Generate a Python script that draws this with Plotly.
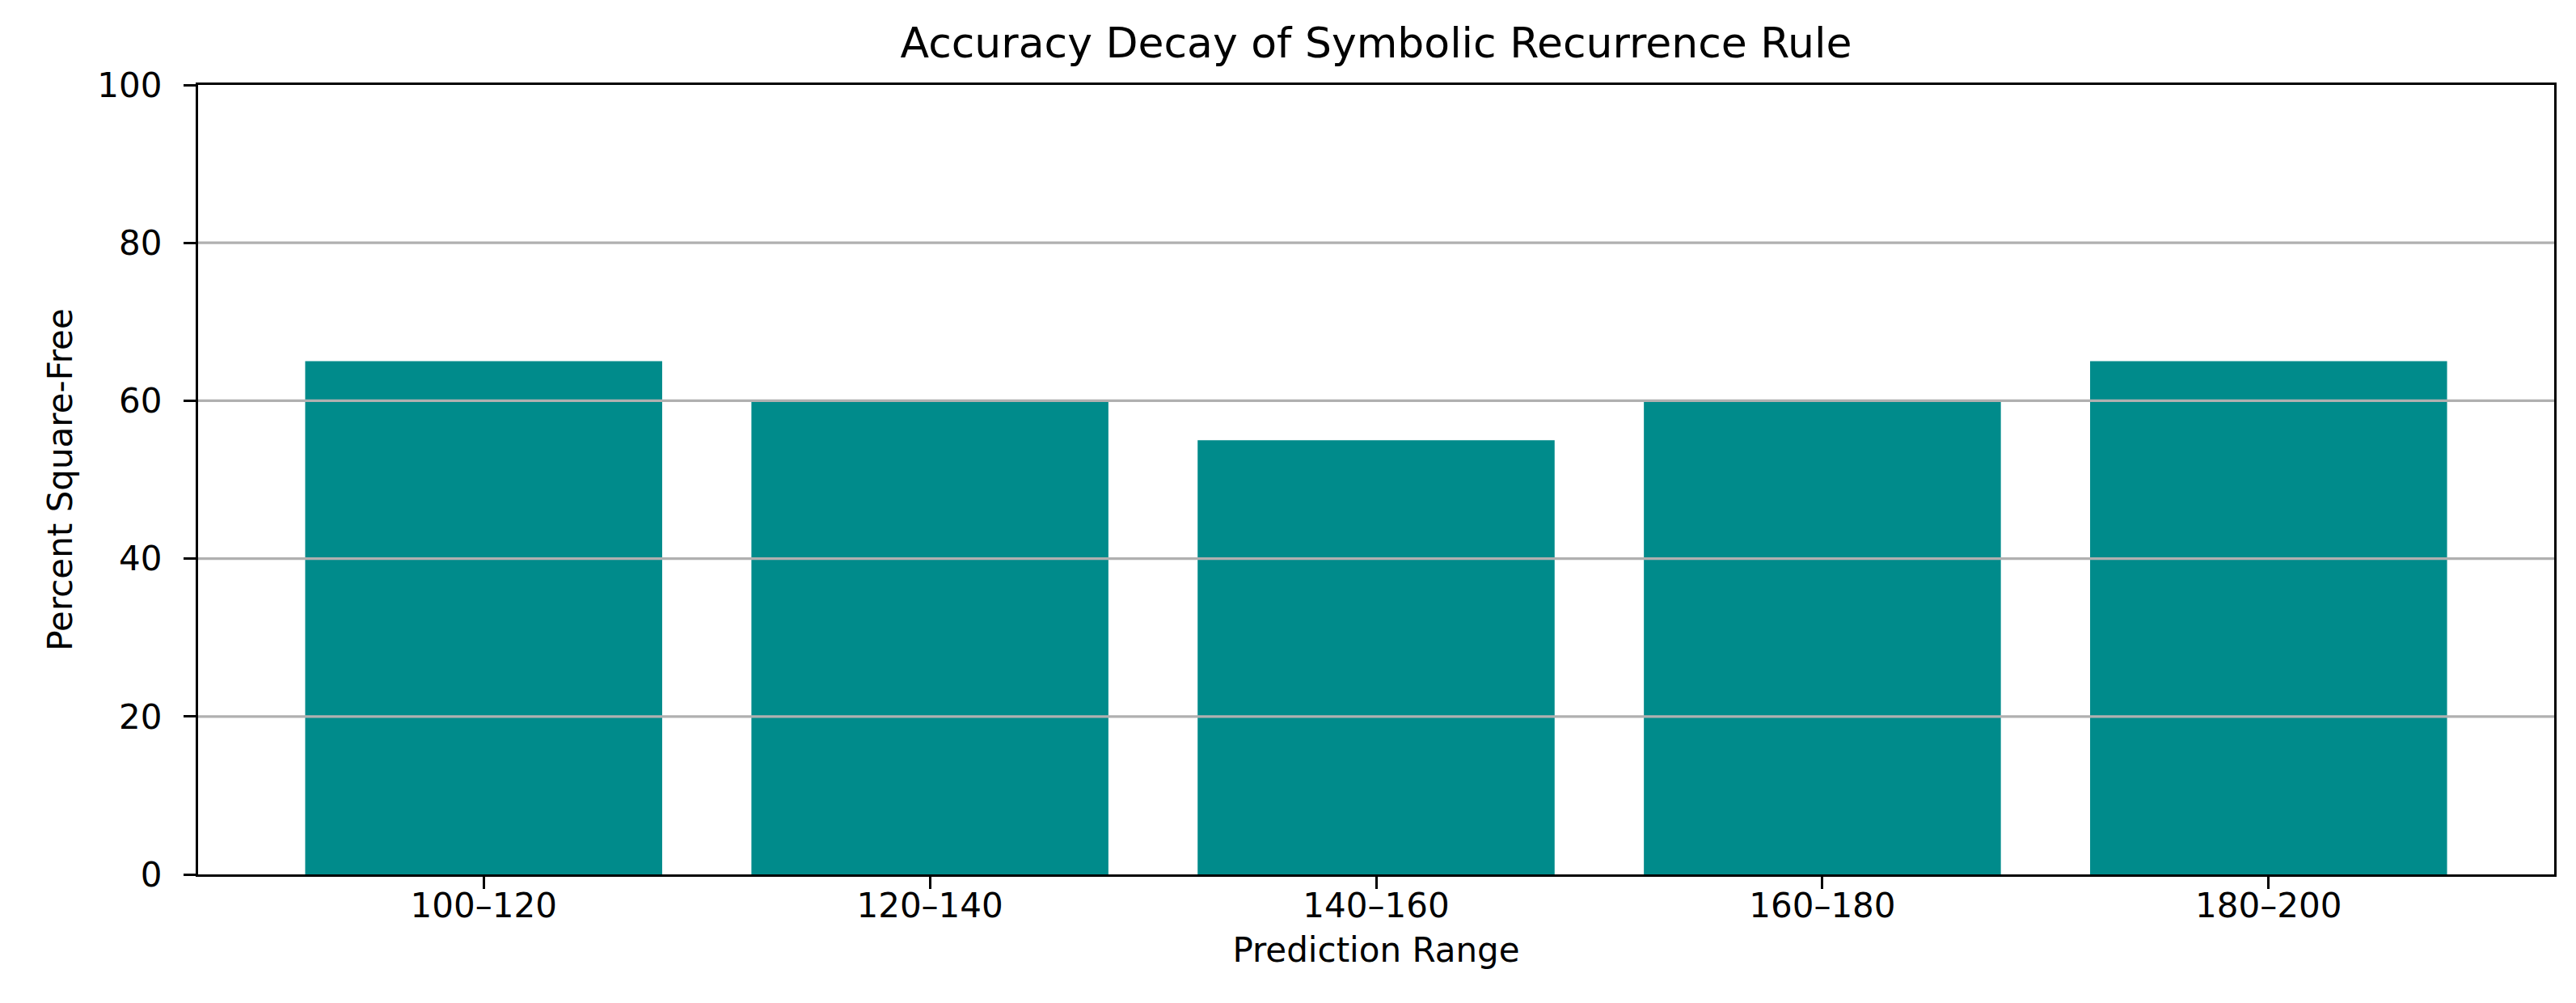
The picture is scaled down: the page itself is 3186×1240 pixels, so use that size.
import plotly.graph_objects as go

categories = ["100–120", "120–140", "140–160", "160–180", "180–200"]
percent_square_free = [65, 60, 55, 60, 65]
y_ticks = [0, 20, 40, 60, 80, 100]

W, H = 3186, 1240
FONT = "DejaVu Sans"
LW = 3.3

fig = go.Figure()
fig.add_trace(go.Bar(
    x=list(range(len(categories))),
    y=percent_square_free,
    width=0.8,
    marker=dict(color="#008B8B", line=dict(width=0)),
    showlegend=False,
))

# gridlines drawn above bars (matplotlib default)
for t in y_ticks[1:-1]:
    fig.add_shape(type="line", xref="paper", x0=0, x1=1, yref="y", y0=t, y1=t,
                  line=dict(color="#b0b0b0", width=LW), layer="above")

n = len(categories)
fig.update_layout(
    width=W, height=H, autosize=False,
    paper_bgcolor="white", plot_bgcolor="white",
    margin=dict(l=237, r=35, t=97, b=167, pad=0),
    font=dict(family=FONT, size=42, color="black"),
    title=dict(text="Accuracy Decay of Symbolic Recurrence Rule",
               font=dict(family=FONT, size=52, color="black"),
               x=0.5, xanchor="center", xref="paper",
               y=1 - 45 / H, yref="container", yanchor="middle"),
    bargap=0.2,
)
fig.update_xaxes(
    range=[-0.64, n - 1 + 0.64],
    tickmode="array", tickvals=list(range(n)), ticktext=categories,
    ticks="outside", ticklen=15, tickwidth=LW, tickcolor="black",
    showline=True, linecolor="black", linewidth=LW, mirror=True,
    showgrid=False, zeroline=False,
    tickfont=dict(family=FONT, size=42, color="black"),
    ticklabelstandoff=-16,
    title=dict(text="Prediction Range", font=dict(family=FONT, size=42, color="black"), standoff=18),
)
fig.update_yaxes(
    range=[0, 100],
    tickmode="array", tickvals=y_ticks,
    ticks="outside", ticklen=15, tickwidth=LW, tickcolor="black",
    showline=True, linecolor="black", linewidth=LW, mirror=True,
    showgrid=False, zeroline=False,
    tickfont=dict(family=FONT, size=42, color="black"),
    ticklabelstandoff=18,
    title=dict(text="Percent Square-Free", font=dict(family=FONT, size=42, color="black"), standoff=18),
)

fig.write_html("out.html")
